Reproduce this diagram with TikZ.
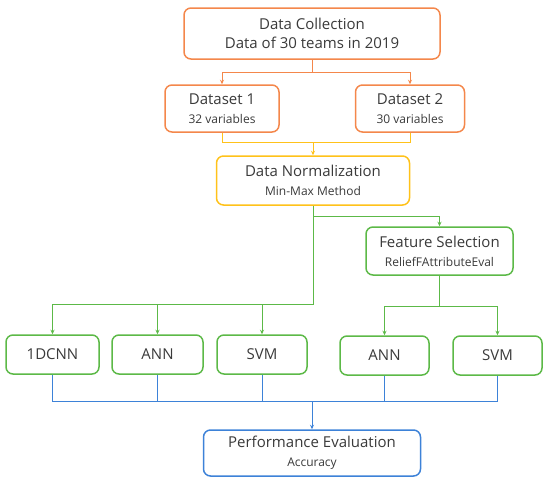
\documentclass[tikz,border=0pt]{standalone}
\usepackage{fontspec}
\setmainfont{Open Sans}
\usetikzlibrary{arrows.meta}
\definecolor{orangeline}{HTML}{F4874B}
\definecolor{yellowline}{HTML}{FFC21A}
\definecolor{greenline}{HTML}{5CB947}
\definecolor{blueline}{HTML}{3D82D8}
\definecolor{txt}{HTML}{3A3A3A}
\newcommand{\subtxt}{\fontsize{12}{14}\selectfont}
\begin{document}
\begin{tikzpicture}[x=1pt,y=-1pt,
    box/.style={draw,line width=1.5pt,rounded corners=7pt,fill=white,
      text=txt,align=center,inner sep=2pt,font=\fontsize{15}{19}\selectfont},
    link/.style={line width=1pt},
    tip/.style={link,-{Stealth[length=4.5pt,width=4pt]}}]
      \useasboundingbox (0,0) rectangle (550,485);
      \draw
        (312,33.5) node[box,draw=orangeline,minimum width=256pt,minimum height=51pt] (dc)
          {Data Collection\\Data of 30 teams in 2019}
        (222,108.5) node[box,draw=orangeline,minimum width=114pt,minimum height=47pt] (d1)
          {Dataset 1\\{\subtxt 32 variables}}
        (410,108.5) node[box,draw=orangeline,minimum width=109pt,minimum height=47pt] (d2)
          {Dataset 2\\{\subtxt 30 variables}}
        (313,180.5) node[box,draw=yellowline,minimum width=193pt,minimum height=49pt] (dn)
          {Data Normalization\\{\subtxt Min-Max Method}}
        (439.5,251) node[box,draw=greenline,minimum width=147pt,minimum height=48pt] (fs)
          {Feature Selection\\{\subtxt ReliefFAttributeEval}}
        (52.5,354.5) node[box,draw=greenline,minimum width=93pt,minimum height=39pt] (cnn){1DCNN}
        (157.5,354.5) node[box,draw=greenline,minimum width=91pt,minimum height=39pt] (ann1){ANN}
        (262,354.5) node[box,draw=greenline,minimum width=90pt,minimum height=39pt] (svm1){SVM}
        (384.5,355.5) node[box,draw=greenline,minimum width=89pt,minimum height=39pt] (ann2){ANN}
        (497.5,355.5) node[box,draw=greenline,minimum width=89pt,minimum height=39pt] (svm2){SVM}
        (312,453) node[box,draw=blueline,minimum width=217pt,minimum height=46pt] (pe)
          {Performance Evaluation\\{\subtxt Accuracy}};
      \path (dc.south) ++(0,13) coordinate (j1);
      \path (dn.north) ++(0,-13) coordinate (j2);
      \path (dn.south) ++(0,11) coordinate (j3);
      \path (dn.south) ++(0,99) coordinate (j4);
      \path (fs.south) ++(0,31) coordinate (j5);
      \path (pe.north) ++(0,-28) coordinate (j6);
      \begin{scope}[orangeline]
        \draw[link] (dc) -- (j1);
        \draw[tip] (j1) -| (d1);
        \draw[tip] (j1) -| (d2);
      \end{scope}
      \begin{scope}[yellowline]
        \draw[link] (d1) |- (j2);
        \draw[link] (d2) |- (j2);
        \draw[tip] (j2) -- (dn);
      \end{scope}
      \begin{scope}[greenline]
        \draw[link] (dn) -- (j4);
        \draw[tip] (j3) -| (fs);
        \draw[tip] (j4) -| (cnn);
        \draw[tip] (j4) -| (ann1);
        \draw[tip] (j4) -| (svm1);
        \draw[link] (fs) -- (j5);
        \draw[tip] (j5) -| (ann2);
        \draw[tip] (j5) -| (svm2);
      \end{scope}
      \begin{scope}[blueline]
        \draw[link] (cnn) |- (j6);
        \draw[link] (ann1) |- (j6);
        \draw[link] (svm1) |- (j6);
        \draw[link] (ann2) |- (j6);
        \draw[link] (svm2) |- (j6);
        \draw[tip] (j6) -- (pe);
      \end{scope}
    \end{tikzpicture}
\end{document}
